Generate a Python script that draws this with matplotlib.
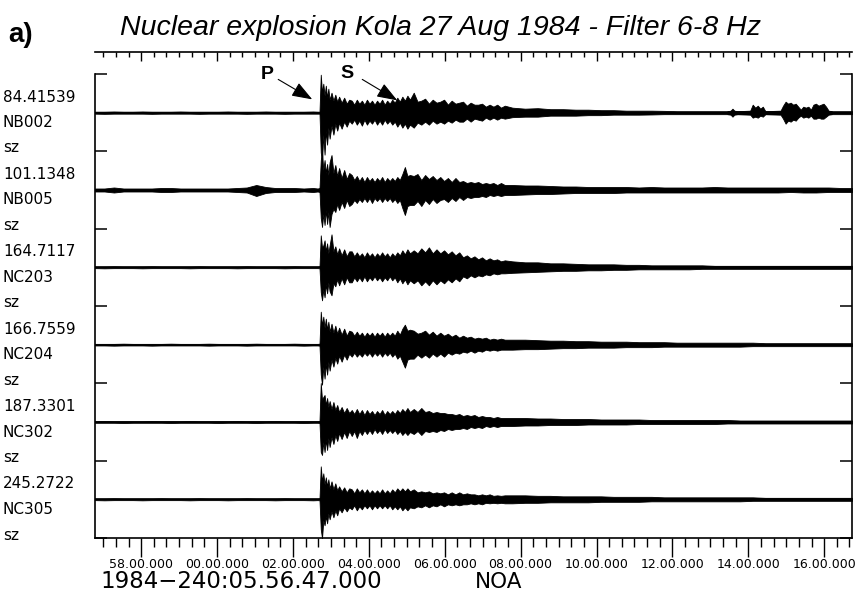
import numpy as np
import matplotlib
matplotlib.use("Agg")
import matplotlib.pyplot as plt
from matplotlib.ticker import FixedLocator, FixedFormatter

# ---------------------------------------------------------------------------
# Data: 6-8 Hz filtered vertical traces, NORESS array, Kola explosion
# time axis: seconds after 1984-240:05.56.47.000
# amplitudes: envelope (upper / lower) in trace units, one slot = 77.4 units
# ---------------------------------------------------------------------------
stations = ["NB002", "NB005", "NC203", "NC204", "NC302", "NC305"]
scales = ["84.41539", "101.1348", "164.7117", "166.7559", "187.3301", "245.2722"]
component = "sz"

tick_times = [73, 193, 313, 433, 553, 673, 793, 913, 1033, 1153]
tick_labels = ["58.00.000", "00.00.000", "02.00.000", "04.00.000", "06.00.000",
               "08.00.000", "10.00.000", "12.00.000", "14.00.000", "16.00.000"]

# sample times of the envelopes
t_pre = np.arange(0, 346, 15)
t_p = [352, 355, 357, 359, 361, 363, 365, 367, 369, 371, 374, 377, 380, 383,
       386, 390, 394, 398, 402]
t_coda1 = np.arange(406, 499, 4)
t_coda2 = np.arange(504, 649, 6)
t_late = np.append(np.arange(660, 1181, 20), 1197)
t_env = np.concatenate([t_pre, t_p, t_coda1, t_coda2, t_late])

nb002_up = [1, 1, 1.2, 1, 1, 1.2, 1, 1, 1, 1.2, 1, 1, 1, 1, 1.2, 1, 1, 1, 1.2, 1, 1, 1, 1, 1.2,
            1, 1, 38, 20, 29, 17, 27, 15, 24, 13, 20, 12, 18, 11, 16, 10, 15, 9, 13,
            12, 8, 13, 9, 12, 8, 13, 9, 12, 8, 12, 9, 13, 8, 12, 9, 13, 10, 15, 11, 16, 12, 17, 13,
            20, 11, 12, 14, 9, 13, 10, 11, 13, 8, 12, 9, 10, 11, 7, 10, 8, 8, 9, 6, 8, 6, 8, 5, 7,
            5, 4, 4.5, 3.5, 3.5, 3, 3, 2.5, 2.5, 2, 2, 2, 1.8, 1.5, 1.5, 1.5, 1.5, 1.5, 1.5, 1.5,
            1.5, 1.5, 1.5, 1.5, 1.5, 1.5, 1.5, 1.5]
nb002_dn = [1, 1.2, 1, 1, 1, 1, 1.2, 1, 1, 1, 1, 1.2, 1, 1, 1, 1, 1.2, 1, 1, 1, 1.2, 1, 1, 1,
            1, 1, 40, 48, 22, 42, 18, 32, 15, 26, 13, 22, 11, 18, 10, 16, 9, 14, 8,
            11, 7, 12, 8, 13, 7, 12, 8, 11, 7, 12, 8, 12, 7, 11, 8, 12, 9, 14, 10, 15, 11, 16, 12,
            15, 10, 12, 9, 12, 8, 11, 9, 11, 8, 10, 7, 9, 9, 6, 9, 6, 7, 8, 5, 7, 5, 7, 5, 6,
            4.5, 4, 4, 3, 3, 3, 2.5, 2.5, 2, 2, 2, 1.8, 1.5, 1.5, 1.5, 1.5, 1.5, 1.5, 1.5, 1.5,
            1.5, 1.5, 1.5, 1.5, 1.5, 1.5, 1.5, 1.5]

nb005_up = [1.5, 1.5, 2.5, 1.5, 1.5, 1.5, 1.5, 2, 2, 1.5, 1.5, 1.5, 1.5, 1.5, 1.5, 2, 2.5, 5, 3, 2, 2, 2, 1.5, 2,
            1.5, 2, 30, 38, 20, 30, 17, 26, 15, 28, 35, 17, 25, 14, 22, 12, 20, 11, 17,
            15, 10, 14, 9, 13, 8, 13, 9, 12, 8, 12, 9, 13, 8, 12, 9, 12, 9, 13, 10, 16, 23, 14, 15,
            14, 16, 10, 15, 11, 14, 10, 13, 9, 12, 8, 12, 8, 9, 7, 8, 7, 8, 6, 7, 6, 7, 5, 7, 5,
            5, 4.5, 4.5, 4, 3.5, 3.5, 3, 3, 3, 3, 2.5, 3, 2.5, 2.5, 2.5, 2.5, 3, 2.5, 2.5, 2.5,
            2.5, 2.5, 2.5, 2.5, 2.5, 2.5, 2, 2]
nb005_dn = [1.5, 1.5, 2.5, 1.5, 1.5, 1.5, 1.5, 2, 2, 1.5, 1.5, 1.5, 1.5, 1.5, 1.5, 2, 2.5, 6, 3, 2, 2, 2, 1.5, 2,
            1.5, 2, 28, 37, 24, 35, 20, 34, 22, 37, 24, 19, 22, 14, 20, 12, 18, 10, 16,
            14, 10, 13, 9, 12, 8, 12, 8, 13, 8, 11, 8, 12, 8, 11, 8, 12, 9, 13, 10, 18, 25, 16, 15,
            15, 11, 16, 10, 14, 9, 13, 10, 9, 12, 8, 11, 7, 10, 7, 8, 7, 7, 6, 7, 5, 6, 5, 6, 5,
            5, 4.5, 4, 4, 3.5, 3, 3, 3, 3, 2.5, 2.5, 2.5, 2.5, 2.5, 2.5, 2.5, 2.5, 2.5, 2.5, 2.5,
            2.5, 2.5, 2, 2.5, 2.5, 2, 2, 2]

nc203_up = [0.8, 0.8, 1, 0.8, 0.8, 0.8, 1, 0.8, 0.8, 0.8, 0.8, 1, 0.8, 0.8, 0.8, 0.8, 1, 0.8, 0.8, 0.8, 0.8, 1, 0.8, 0.8,
            0.8, 1, 32, 20, 22, 27, 16, 24, 14, 22, 33, 16, 21, 13, 19, 12, 18, 11, 16,
            16, 11, 15, 11, 14, 10, 15, 11, 14, 10, 14, 11, 15, 11, 14, 10, 14, 11, 15, 12, 17, 13, 18, 14,
            17, 14, 19, 15, 20, 14, 18, 14, 17, 13, 16, 12, 15, 10, 12, 9, 11, 8, 10, 7, 9, 7, 8, 6, 7,
            6, 5, 5, 4, 4, 3.5, 3, 3, 3, 2.5, 2.5, 2, 2, 2, 2, 2, 1.5, 1.5, 1.5, 1.5,
            1.5, 1.5, 1.5, 1.5, 1.5, 1.5, 1.5, 1.5]
nc203_dn = [0.8, 1, 0.8, 0.8, 0.8, 1, 0.8, 0.8, 0.8, 0.8, 1, 0.8, 0.8, 0.8, 0.8, 1, 0.8, 0.8, 0.8, 0.8, 1, 0.8, 0.8, 0.8,
            0.8, 1, 25, 33, 22, 30, 17, 26, 15, 24, 28, 16, 19, 12, 18, 11, 17, 10, 15,
            15, 10, 14, 10, 14, 9, 14, 10, 13, 9, 13, 10, 14, 10, 13, 9, 13, 10, 15, 11, 16, 12, 17, 13,
            16, 13, 18, 14, 18, 13, 17, 13, 16, 12, 15, 11, 14, 9, 11, 8, 10, 8, 9, 7, 8, 6, 7, 6, 6,
            5.5, 5, 4.5, 4, 3.5, 3.5, 3, 3, 2.5, 2.5, 2, 2, 2, 2, 2, 1.5, 1.5, 1.5, 1.5, 1.5,
            1.5, 1.5, 1.5, 1.5, 1.5, 1.5, 1.5, 1.5]

nc204_up = [0.8, 0.8, 0.8, 1, 0.8, 0.8, 0.8, 0.8, 1, 0.8, 0.8, 0.8, 1, 0.8, 0.8, 0.8, 0.8, 1, 0.8, 0.8, 0.8, 1, 0.8, 0.8,
            0.8, 1, 33, 19, 28, 17, 26, 15, 23, 13, 21, 12, 19, 11, 17, 10, 16, 9, 14,
            13, 9, 13, 9, 12, 8, 12, 9, 12, 8, 12, 9, 12, 8, 12, 9, 12, 9, 14, 10, 16, 20, 14, 15,
            14, 11, 12, 14, 10, 13, 9, 12, 9, 11, 8, 10, 7, 9, 7, 8, 6, 7, 6, 7, 5, 6, 5, 6, 5,
            5, 5, 4.5, 4, 4, 3.5, 3.5, 3, 3, 3, 2.5, 2.5, 2.5, 2, 2, 2, 2, 2, 2, 2,
            1.5, 1.5, 1.5, 1.5, 1.5, 1.5, 1.5, 1.5]
nc204_dn = [0.8, 0.8, 1, 0.8, 0.8, 0.8, 1, 0.8, 0.8, 0.8, 0.8, 0.8, 1, 0.8, 0.8, 0.8, 1, 0.8, 0.8, 0.8, 0.8, 0.8, 1, 0.8,
            0.8, 1, 30, 40, 22, 34, 19, 30, 17, 26, 15, 22, 13, 19, 11, 17, 10, 15, 9,
            12, 8, 12, 9, 12, 8, 11, 8, 12, 8, 11, 8, 12, 8, 11, 8, 12, 9, 14, 11, 17, 23, 15, 14,
            14, 10, 13, 10, 13, 9, 12, 9, 12, 8, 10, 8, 9, 7, 8, 6, 8, 6, 7, 5, 6, 5, 6, 5, 5,
            5, 4.5, 4.5, 4, 3.5, 3.5, 3, 3, 3, 2.5, 2.5, 2.5, 2, 2, 2, 2, 2, 2, 2, 1.5,
            1.5, 1.5, 1.5, 1.5, 1.5, 1.5, 1.5, 1.5]

nc302_up = [0.8, 1, 0.8, 0.8, 0.8, 0.8, 1, 0.8, 0.8, 0.8, 1, 0.8, 0.8, 0.8, 0.8, 1, 0.8, 0.8, 0.8, 1, 0.8, 0.8, 0.8, 0.8,
            0.8, 1, 39, 22, 25, 27, 17, 24, 15, 21, 13, 20, 12, 17, 10, 15, 9, 14, 9,
            12, 8, 13, 8, 12, 7, 12, 8, 11, 7, 11, 8, 12, 7, 11, 8, 11, 8, 12, 9, 13, 10, 14, 10,
            13, 10, 14, 10, 11, 9, 10, 9, 9, 8, 8, 7, 8, 6, 7, 6, 7, 5, 6, 5, 5, 4, 5, 4, 4,
            4, 4, 3.5, 3.5, 3, 3, 3, 2.5, 2.5, 2.5, 2.5, 2, 2, 2, 2, 2, 2, 2, 1.5, 1.5,
            1.5, 1.5, 1.5, 1.5, 1.5, 1.5, 1.5, 1.5]
nc302_dn = [0.8, 0.8, 0.8, 1, 0.8, 0.8, 0.8, 0.8, 1, 0.8, 0.8, 0.8, 0.8, 1, 0.8, 0.8, 0.8, 1, 0.8, 0.8, 0.8, 0.8, 1, 0.8,
            0.8, 1, 30, 33, 20, 30, 18, 28, 16, 25, 15, 22, 13, 19, 11, 17, 10, 16, 9,
            14, 9, 16, 9, 13, 8, 12, 8, 12, 7, 11, 8, 12, 7, 11, 8, 11, 8, 12, 9, 13, 10, 13, 10,
            12, 9, 13, 9, 10, 9, 10, 8, 9, 7, 8, 7, 7, 6, 7, 5, 6, 5, 6, 4, 5, 4, 5, 4, 4,
            4, 3.5, 3.5, 3, 3, 3, 2.5, 2.5, 2.5, 2.5, 2, 2, 2, 2, 2, 2, 2, 1.5, 1.5, 1.5,
            1.5, 1.5, 1.5, 1.5, 1.5, 1.5, 1.5, 1.5]

nc305_up = [0.8, 0.8, 1, 0.8, 0.8, 0.8, 0.8, 1, 0.8, 0.8, 0.8, 1, 0.8, 0.8, 0.8, 0.8, 1, 0.8, 0.8, 0.8, 1, 0.8, 0.8, 0.8,
            0.8, 1, 33, 18, 26, 15, 22, 13, 20, 11, 18, 10, 16, 9, 13, 8, 12, 7, 11,
            10, 6, 11, 7, 10, 6, 10, 6, 9, 6, 9, 6, 10, 6, 9, 6, 10, 7, 11, 8, 11, 8, 11, 8,
            10, 7, 8, 7, 8, 6, 7, 6, 7, 5, 7, 5, 7, 5, 6, 5, 5, 4, 5, 4, 5, 3.5, 4, 3.5, 4,
            4, 4, 3.5, 3.5, 3, 3, 3, 3, 2.5, 2.5, 2.5, 2.5, 2, 2, 2, 2, 2, 2, 2, 2,
            1.5, 1.5, 1.5, 1.5, 1.5, 1.5, 1.5, 1.5]
nc305_dn = [0.8, 1, 0.8, 0.8, 0.8, 1, 0.8, 0.8, 0.8, 0.8, 1, 0.8, 0.8, 0.8, 1, 0.8, 0.8, 0.8, 0.8, 1, 0.8, 0.8, 0.8, 1,
            0.8, 1, 30, 39, 21, 26, 17, 24, 14, 20, 12, 18, 11, 16, 9, 13, 8, 12, 8,
            10, 6, 11, 7, 10, 6, 9, 6, 10, 6, 9, 6, 9, 6, 9, 6, 10, 7, 10, 7, 11, 8, 11, 8,
            9, 7, 8, 6, 8, 6, 7, 5, 7, 5, 6, 5, 6, 5, 5, 4, 5, 4, 5, 3.5, 4, 3.5, 4, 3.5, 4,
            4, 3.5, 3.5, 3, 3, 3, 3, 2.5, 2.5, 2.5, 2.5, 2, 2, 2, 2, 2, 2, 2, 2, 1.5,
            1.5, 1.5, 1.5, 1.5, 1.5, 1.5, 1.5, 1.5]

# late local events on NB002
nb002_evt_t = [1000, 1005, 1008, 1011, 1016, 1036, 1040, 1044, 1048, 1052, 1056, 1060,
               1084, 1088, 1092, 1096, 1100, 1104, 1108, 1112, 1116, 1120, 1124, 1128,
               1132, 1136, 1140, 1144, 1148, 1152, 1156, 1160, 1165]
nb002_evt_up = [1.5, 2, 4, 2, 1.5, 2, 8, 5, 7, 4, 6, 1.5, 2, 7, 11, 9, 10, 8, 9, 6, 3,
                6, 5, 6, 3, 8, 9, 7, 8, 9, 6, 2, 1.5]
nb002_evt_dn = [1.5, 2, 4, 2, 1.5, 2, 5, 4, 5, 3, 4, 1.5, 2, 6, 11, 8, 9, 7, 8, 5, 3,
                5, 4, 5, 3, 6, 6, 5, 6, 6, 4, 2, 1.5]

traces_up = [nb002_up, nb005_up, nc203_up, nc204_up, nc302_up, nc305_up]
traces_dn = [nb002_dn, nb005_dn, nc203_dn, nc204_dn, nc302_dn, nc305_dn]

# ---------------------------------------------------------------------------
W, H = 856, 596
SLOT = 77.4
T_END = 1197
n = len(stations)

fig = plt.figure(figsize=(W / 100, H / 100), dpi=100)
fig.patch.set_facecolor("white")

ax_l, ax_r, ax_t, ax_b = 95, 852, 74, 538
ax = fig.add_axes([ax_l / W, 1 - ax_b / H, (ax_r - ax_l) / W, (ax_b - ax_t) / H])
ax.set_xlim(0, T_END)
ax.set_ylim(0, n * SLOT)

for i in range(n):
    base = (n - i - 0.5) * SLOT
    up = np.asarray(traces_up[i], dtype=float)
    dn = np.asarray(traces_dn[i], dtype=float)
    ax.plot([0, T_END], [base, base], color="black", lw=1.1, solid_capstyle="butt")
    ax.fill_between(t_env, base + up, base - dn, color="black", lw=0.6)
    if i == 0:
        ax.fill_between(nb002_evt_t, base + np.asarray(nb002_evt_up),
                        base - np.asarray(nb002_evt_dn), color="black", lw=0.6)

# frame
for side in ("left", "right", "bottom"):
    ax.spines[side].set_linewidth(1.2)
ax.spines["top"].set_visible(False)

ax.set_yticks(np.arange(n + 1) * SLOT)
ax.tick_params(axis="y", which="major", direction="in", length=8.5, width=1.1,
               left=True, right=True, labelleft=False, labelright=False)

ax.xaxis.set_major_locator(FixedLocator(tick_times))
ax.xaxis.set_major_formatter(FixedFormatter(tick_labels))
ax.xaxis.set_minor_locator(FixedLocator(np.arange(13, T_END, 20)))
ax.tick_params(axis="x", which="major", direction="out", length=14, width=1.0,
               pad=0.5, labelsize=9)
ax.tick_params(axis="x", which="minor", direction="out", length=6.5, width=1.0)
for lab in ax.get_xticklabels():
    lab.set_family("DejaVu Sans")

# upper time scale
ax_top = fig.add_axes([ax_l / W, 1 - 52 / H, (ax_r - ax_l) / W, 0.0001])
ax_top.set_xlim(0, T_END)
for side in ("left", "right", "top"):
    ax_top.spines[side].set_visible(False)
ax_top.spines["bottom"].set_linewidth(1.2)
ax_top.set_yticks([])
ax_top.xaxis.set_major_locator(FixedLocator(tick_times))
ax_top.xaxis.set_minor_locator(FixedLocator(np.arange(13, T_END, 20)))
ax_top.tick_params(axis="x", which="major", direction="out", length=6.5, width=1.0,
                   labelbottom=False)
ax_top.tick_params(axis="x", which="minor", direction="out", length=3.8, width=1.0)

# station labels
for i in range(n):
    top_px = ax_t + i * SLOT
    for k, txt in enumerate((scales[i], stations[i], component)):
        fig.text(3 / W, 1 - (top_px + 23 + 25.5 * k) / H, txt, fontsize=11,
                 family="DejaVu Sans", ha="left", va="center")

# phase markers
ax.text(271.5, 464, "P", fontsize=14, fontweight="bold", family="Liberation Sans",
        ha="center", va="center")
ax.text(399, 465, "S", fontsize=14, fontweight="bold", family="Liberation Sans",
        ha="center", va="center")
arrow_kw = dict(arrowstyle="-|>,head_length=0.9,head_width=0.33", color="black",
                lw=0.8, shrinkA=0, shrinkB=0, mutation_scale=14)
ax.annotate("", xy=(343.5, 439), xytext=(289.7, 459), arrowprops=arrow_kw,
            annotation_clip=False)
ax.annotate("", xy=(478, 438), xytext=(422.6, 459), arrowprops=arrow_kw,
            annotation_clip=False)

# titles and footer
fig.text(8 / W, 1 - 35 / H, "a)", fontsize=20, fontweight="bold",
         family="Liberation Sans", ha="left", va="center")
fig.text(120 / W, 1 - 28 / H, "Nuclear explosion Kola 27 Aug 1984 - Filter 6-8 Hz",
         fontsize=20.5, style="italic", family="Liberation Sans", ha="left", va="center")
fig.text(100 / W, 1 - 582 / H, "1984\u2212240:05.56.47.000", fontsize=16.5,
         family="DejaVu Sans", ha="left", va="center")
fig.text(475 / W, 1 - 582 / H, "NOA", fontsize=15.5, family="DejaVu Sans",
         ha="left", va="center")

fig.savefig("out.png", dpi=100, facecolor="white")
